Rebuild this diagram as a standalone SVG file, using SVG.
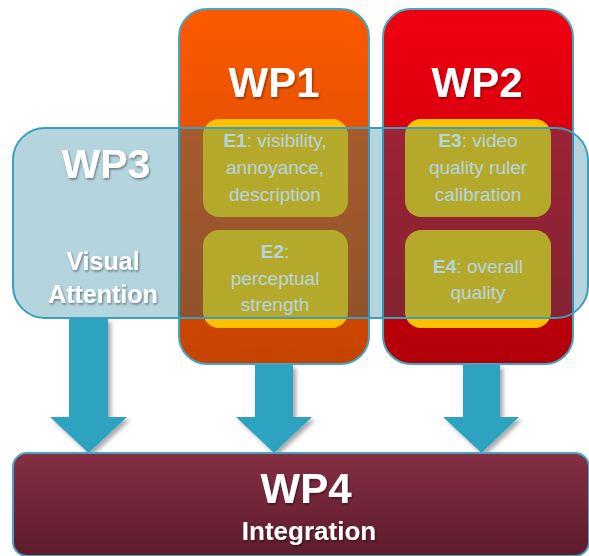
<svg xmlns="http://www.w3.org/2000/svg" width="589" height="556" viewBox="0 0 589 556">
<defs>
<linearGradient id="gOrange" x1="0" y1="0" x2="0" y2="1"><stop offset="0" stop-color="#fc5a00"/><stop offset="1" stop-color="#c54300"/></linearGradient>
<linearGradient id="gRed" x1="0" y1="0" x2="0" y2="1"><stop offset="0" stop-color="#f00010"/><stop offset="1" stop-color="#b20008"/></linearGradient>
<linearGradient id="gWine" x1="0" y1="0" x2="0" y2="1"><stop offset="0" stop-color="#852e44"/><stop offset="1" stop-color="#5e1c2b"/></linearGradient>
<filter id="sh" x="-20%" y="-20%" width="150%" height="150%"><feDropShadow dx="3" dy="3" stdDeviation="2" flood-color="#000" flood-opacity="0.35"/></filter>
<filter id="ts" x="-20%" y="-20%" width="150%" height="150%"><feDropShadow dx="1" dy="1.5" stdDeviation="1" flood-color="#000" flood-opacity="0.45"/></filter>
</defs>
<style>
.wp{stroke:#45a6c3;stroke-width:2}
.ebox{fill:#ffc000}
.title{font-family:"Liberation Sans",Arial,sans-serif;font-weight:bold;fill:#fff;text-anchor:middle}
.et{font-family:"Liberation Sans",Arial,sans-serif;font-size:19px;fill:#fff;text-anchor:middle}
.et tspan.b{font-weight:bold}
.arrow{fill:#2ea3c1}
</style>
<g id="wp1">
<rect class="wp" x="179" y="9" width="190" height="355" rx="28" fill="url(#gOrange)"/>
<text class="title" x="274" y="97" font-size="42" filter="url(#ts)">WP1</text>
</g>
<g id="e1">
<rect class="ebox" x="203" y="119" width="145" height="98" rx="16"/>
<text class="et" x="275" y="147"><tspan class="b">E1</tspan>: visibility,</text>
<text class="et" x="275" y="174">annoyance,</text>
<text class="et" x="275" y="201">description</text>
</g>
<g id="e2">
<rect class="ebox" x="203" y="230" width="145" height="98" rx="16"/>
<text class="et" x="275" y="258"><tspan class="b">E2</tspan>:</text>
<text class="et" x="275" y="285">perceptual</text>
<text class="et" x="275" y="311">strength</text>
</g>
<g id="wp2">
<rect class="wp" x="383" y="9" width="190" height="355" rx="28" fill="url(#gRed)"/>
<text class="title" x="477" y="97" font-size="42" filter="url(#ts)">WP2</text>
</g>
<g id="e3">
<rect class="ebox" x="405" y="119" width="146" height="98" rx="16"/>
<text class="et" x="478" y="147"><tspan class="b">E3</tspan>: video</text>
<text class="et" x="478" y="174">quality ruler</text>
<text class="et" x="478" y="201">calibration</text>
</g>
<g id="e4">
<rect class="ebox" x="405" y="230" width="146" height="98" rx="16"/>
<text class="et" x="478" y="273"><tspan class="b">E4</tspan>: overall</text>
<text class="et" x="478" y="299">quality</text>
</g>
<g id="wp3">
<rect x="13" y="128" width="575" height="190" rx="32" fill="#0a7391" fill-opacity="0.3" stroke="#3a9fbd" stroke-width="2"/>
<text class="title" x="106" y="178" font-size="41" filter="url(#ts)">WP3</text>
<text class="title" x="103" y="270" font-size="25" filter="url(#ts)">Visual</text>
<text class="title" x="103" y="303" font-size="25" filter="url(#ts)">Attention</text>
</g>
<g id="connectors" filter="url(#sh)">
<polygon class="arrow" points="69,319 108,319 108,417 127,417 88.5,453 50,417 69,417"/>
<polygon class="arrow" points="255,365 293,365 293,417 312,417 274,453 236,417 255,417"/>
<polygon class="arrow" points="463,365 500,365 500,417 519,417 481.5,453 443,417 463,417"/>
</g>
<g id="wp4">
<rect x="13" y="453" width="576" height="103" rx="14" fill="url(#gWine)" stroke="#45a6c3" stroke-width="2"/>
<text class="title" x="306" y="503" font-size="42" filter="url(#ts)">WP4</text>
<text class="title" x="309" y="540" font-size="26" filter="url(#ts)">Integration</text>
</g>
</svg>
